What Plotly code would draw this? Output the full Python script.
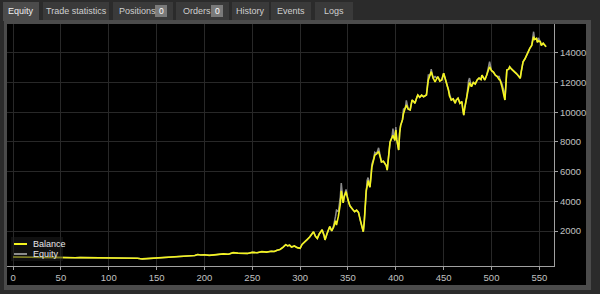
import plotly.graph_objects as go

# ---------------- data ----------------
x_deals = [0,5,10,15,20,25,30,35,40,45,50,55,60,65,70,75,80,85,90,95,100,105,110,115,120,125,130,135,140,145,150,
           155,160,165,170,175,180,185,190,193,196,200,205,210,215,220,225,230,235,240,245,250,255,260,265,270,273,276,279,
           282,285,287,289,291,294,297,300,302,304,307,310,312,314,316,318,320,323,325,326,328,331,333,335,337,338,340,
           342,343,344,345,346,348,350,352,355,357,359,361,363,365,366,367,368,369,370,371,372,373,375,377,378,380,382,
           384,385,387,389,390,391,393,394,396,397,399,400,401,403,404,405,407,408,410,411,413,415,416,417,419,420,422,
           423,425,427,429,431,432,434,436,437,439,441,443,444,446,448,450,451,453,455,456,458,460,462,463,465,467,469,
           470,471,472,474,476,477,479,481,483,485,487,489,490,492,493,495,497,498,500,502,504,506,508,509,511,513,514,
           515,516,518,519,521,523,524,526,528,530,531,533,535,537,538,540,542,543,544,545,547,548,549,551,552,554,556,557]

balance = [250,240,255,230,240,220,230,215,225,210,215,205,215,200,210,205,215,200,210,195,205,190,200,185,190,170,160,120,140,150,180,
           210,200,230,250,240,280,300,350,420,380,400,360,390,420,460,430,540,510,520,490,560,540,610,580,640,620,700,760,
           900,1080,1000,1050,920,990,880,830,1100,1250,1400,1600,1750,1950,1650,1500,1800,2080,1700,1400,1800,2300,2000,2250,2700,2400,3000,
           3800,4700,4200,3900,4300,4650,4100,3700,3450,3300,3400,3250,2700,2200,1950,2600,3800,4700,5000,5400,5100,4950,6300,6900,7100,7200,7350,
           6900,6650,6700,6550,6400,6100,7300,8000,8300,8450,8100,8800,8150,7450,8600,9100,9500,9900,10300,10480,10200,10150,10500,10820,10700,10600,11000,
           11160,11000,11150,11040,11150,11160,12170,12500,12730,12300,12050,12300,12390,12100,12170,12620,12400,11950,11500,11100,10820,10900,10600,10800,10940,10600,10710,
           10200,9810,10300,10940,11830,12000,11720,12000,11900,12170,12300,12200,12500,12300,12170,12500,12800,13060,12800,12700,12500,12400,12200,12170,11700,11200,10820,
           11800,12840,12900,13060,12900,12800,12730,12600,12450,12280,12700,13400,13600,13900,14070,14300,14500,14800,15080,14900,14970,14700,14800,14750,14500,14640,14500,14410]

equity = [250,240,255,230,240,220,230,215,225,210,215,205,215,200,210,205,215,200,210,195,205,190,200,185,190,170,160,120,140,150,180,
          210,200,230,250,240,280,300,350,420,380,400,360,390,420,460,430,540,510,520,490,560,540,610,580,640,620,700,760,
          900,1080,1000,1050,920,990,880,830,1100,1250,1400,1600,1750,1950,1650,1500,1800,2080,1700,1400,1800,2300,2000,2350,3000,3400,3300,
          4300,5230,4400,3900,4300,4800,4100,3700,3450,3300,3400,3250,2700,2200,1950,2600,3800,5000,5400,5600,5100,4950,6500,6900,7300,7200,7600,
          6900,6650,6700,6550,6400,6100,7300,8000,8300,8900,8100,9000,8150,7450,8600,9100,9500,10200,10300,10800,10200,10150,10500,10820,10700,10600,11000,
          11160,11000,11150,11040,11150,11160,12500,12500,12900,12300,12400,12300,12390,12100,12170,12620,12400,11950,11500,11100,10820,10900,10600,10800,10940,10600,10710,
          10200,9810,10300,10940,12100,12300,11720,12000,11900,12170,12300,12200,12500,12300,12170,12500,13000,13400,12800,12700,12500,12400,12400,12170,11900,11400,10820,
          11800,12840,12900,13060,12900,12800,12730,12600,12450,12280,12700,13400,13600,13900,14070,14300,14500,15200,15420,14900,14970,14700,15000,14750,14500,14640,14500,14410]

x_ticks = [0,50,100,150,200,250,300,350,400,450,500,550]
y_ticks = [2000,4000,6000,8000,10000,12000,14000]

tabs = ["Equity", "Trade statistics", "Positions", "Orders", "History", "Events", "Logs"]
tab_badges = [None, None, "0", "0", None, None, None]

# ---------------- helpers: pixel -> paper ----------------
W, H = 600, 294
def X(px):
    return px / W
def Y(py):
    return 1 - py / H

FONT = "Liberation Sans, Arial, sans-serif"

fig = go.Figure()
fig.add_trace(go.Scatter(x=x_deals, y=equity, mode="lines", name="Equity",
                         line=dict(color="#8c8c8c", width=1.5), showlegend=False, hoverinfo="skip"))
fig.add_trace(go.Scatter(x=x_deals, y=balance, mode="lines", name="Balance",
                         line=dict(color="#f4f41e", width=1.6), showlegend=False))

shapes = []
annotations = []

# outer frame and black chart area
shapes.append(dict(type="rect", xref="paper", yref="paper", x0=X(4), x1=X(591), y0=Y(290), y1=Y(20),
                   fillcolor="#4b4b4b", line=dict(width=0), layer="below"))
shapes.append(dict(type="rect", xref="paper", yref="paper", x0=X(7), x1=X(586), y0=Y(285), y1=Y(24),
                   fillcolor="#000000", line=dict(width=0), layer="below"))

# tabs
tab_px = [(3, 39), (43, 109), (113, 173), (176, 229), (232, 269), (271, 311), (315, 353)]
text_start = {2: 117, 3: 181}
for i, (name, (a, b)) in enumerate(zip(tabs, tab_px)):
    active = i == 0
    shapes.append(dict(type="rect", xref="paper", yref="paper", x0=X(a), x1=X(b),
                       y0=Y(21 if active else 20), y1=Y(2),
                       fillcolor="#4b4b4b" if active else "#3a3a3a", line=dict(width=0), layer="below"))
    badge = tab_badges[i]
    if badge is None:
        annotations.append(dict(x=X((a + b) / 2), y=Y(11.5), xref="paper", yref="paper", text=name,
                                showarrow=False, xanchor="center", yanchor="middle",
                                font=dict(family=FONT, size=9, color="#f0f0f0" if active else "#cfcfcf")))
    else:
        annotations.append(dict(x=X(text_start[i]), y=Y(11.5), xref="paper", yref="paper", text=name,
                                showarrow=False, xanchor="left", yanchor="middle",
                                font=dict(family=FONT, size=9, color="#cfcfcf")))
        shapes.append(dict(type="rect", xref="paper", yref="paper", x0=X(b - 18), x1=X(b - 6),
                           y0=Y(17), y1=Y(5), fillcolor="#7a7a7a", line=dict(width=0), layer="below"))
        annotations.append(dict(x=X(b - 12), y=Y(11.5), xref="paper", yref="paper", text=badge,
                                showarrow=False, xanchor="center", yanchor="middle",
                                font=dict(family=FONT, size=8.5, color="#ffffff")))

# legend (drawn manually to match the compact spacing)
shapes.append(dict(type="rect", xref="paper", yref="paper", x0=X(11), x1=X(63), y0=Y(261), y1=Y(237),
                   fillcolor="rgba(30,30,30,0.55)", line=dict(width=0), layer="above"))
shapes.append(dict(type="line", xref="paper", yref="paper", x0=X(14), x1=X(27), y0=Y(244), y1=Y(244),
                   line=dict(color="#f4f41e", width=2), layer="above"))
shapes.append(dict(type="line", xref="paper", yref="paper", x0=X(14), x1=X(27), y0=Y(254), y1=Y(254),
                   line=dict(color="#8c8c8c", width=2), layer="above"))
for name, py in (("Balance", 244), ("Equity", 254)):
    annotations.append(dict(x=X(31), y=Y(py), xref="paper", yref="paper", text=name, showarrow=False,
                            xanchor="left", yanchor="middle",
                            font=dict(family=FONT, size=9, color="#e8e8e8")))

fig.update_layout(
    width=W, height=H,
    template="none",
    margin=dict(l=0, r=0, t=0, b=0),
    paper_bgcolor="#2b2b2b",
    plot_bgcolor="#000000",
    showlegend=False,
    shapes=shapes,
    annotations=annotations,
    xaxis=dict(domain=[X(7), X(554)], range=[-6.3, 565.3], tickvals=x_ticks,
               showgrid=True, gridcolor="#282828", gridwidth=1, zeroline=False,
               showline=True, linecolor="#a0a0a0", linewidth=1,
               ticks="outside", ticklen=3, tickcolor="#a0a0a0",
               tickfont=dict(family=FONT, size=9.5, color="#c0c0c0"), automargin=False),
    yaxis=dict(domain=[Y(266), Y(24)], range=[-357, 15940], tickvals=y_ticks, side="right",
               tickformat="d",
               showgrid=True, gridcolor="#282828", gridwidth=1, zeroline=False,
               showline=True, linecolor="#a0a0a0", linewidth=1,
               ticks="outside", ticklen=3, tickcolor="#a0a0a0",
               tickfont=dict(family=FONT, size=9.5, color="#c0c0c0"), automargin=False),
)

fig.write_html("out.html")
